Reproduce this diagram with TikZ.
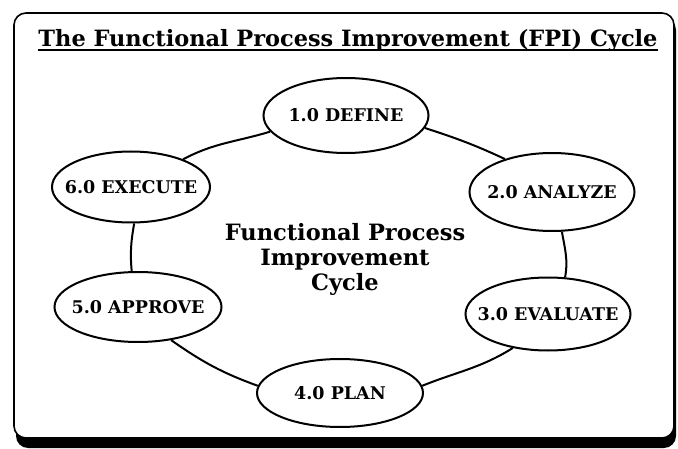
\documentclass[tikz,border=0pt]{standalone}
\usepackage{fontspec}
\setmainfont{DejaVu Serif}
\usetikzlibrary{shapes.geometric}
\begin{document}
\begin{tikzpicture}[x=1pt,y=1pt,
  proc/.style={draw=black, line width=2pt, ellipse, fill=white, inner sep=0pt},
  lbl/.style={font=\fontsize{17.5}{20}\selectfont\bfseries},
  link/.style={draw=black, line width=2pt},
  frameline/.style={line width=1.6pt, rounded corners=12pt},
]
\useasboundingbox (0,0) rectangle (678,448);
% frame with shadow
\fill[black, rounded corners=12pt] (16,0) rectangle (676,430);
\draw[frameline, fill=white] (14,10) rectangle (674,435);
% title
\node[anchor=base, inner sep=0pt] (title) at (348,401)
  {\resizebox{619pt}{!}{\fontsize{20}{24}\selectfont\bfseries The Functional Process Improvement (FPI) Cycle}};
\draw[line width=2pt] ([yshift=-3pt]title.base west) -- ([yshift=-3pt]title.base east);
% centre text
\node[align=center, inner sep=0pt, font=\fontsize{22.5}{25}\selectfont\bfseries] (ctr) at (345,189)
  {Functional Process\\Improvement\\Cycle};
% process ellipses
\node[proc, minimum width=165pt, minimum height=75pt, label={[lbl]center:1.0 DEFINE}] (n1) at (346,332.5) {};
\node[proc, minimum width=165pt, minimum height=78pt, label={[lbl]center:2.0 ANALYZE}] (n2) at (552,256) {};
\node[proc, minimum width=165pt, minimum height=73pt, label={[lbl]center:3.0 EVALUATE}] (n3) at (548,134) {};
\node[proc, minimum width=166pt, minimum height=68pt, label={[lbl]center:4.0 PLAN}] (n4) at (340,55) {};
\node[proc, minimum width=167pt, minimum height=70pt, label={[lbl]center:5.0 APPROVE}] (n5) at (138,141) {};
\node[proc, minimum width=158pt, minimum height=71pt, label={[lbl]center:6.0 EXECUTE}] (n6) at (131,261) {};
% connectors
\draw[link] (n1.-9) to[out=-18,in=155] (n2.145);
\draw[link] (n2.-76) to[out=-80,in=80] (n3.65);
\draw[link] (n3.224) to[out=212,in=22] (n4.5);
\draw[link] (n4.175) to[out=160,in=-35] (n5.-45);
\draw[link] (n5.100) to[out=95,in=-100] (n6.-85);
\draw[link] (n6.28) to[out=28,in=197] (n1.192);
\end{tikzpicture}
\end{document}
